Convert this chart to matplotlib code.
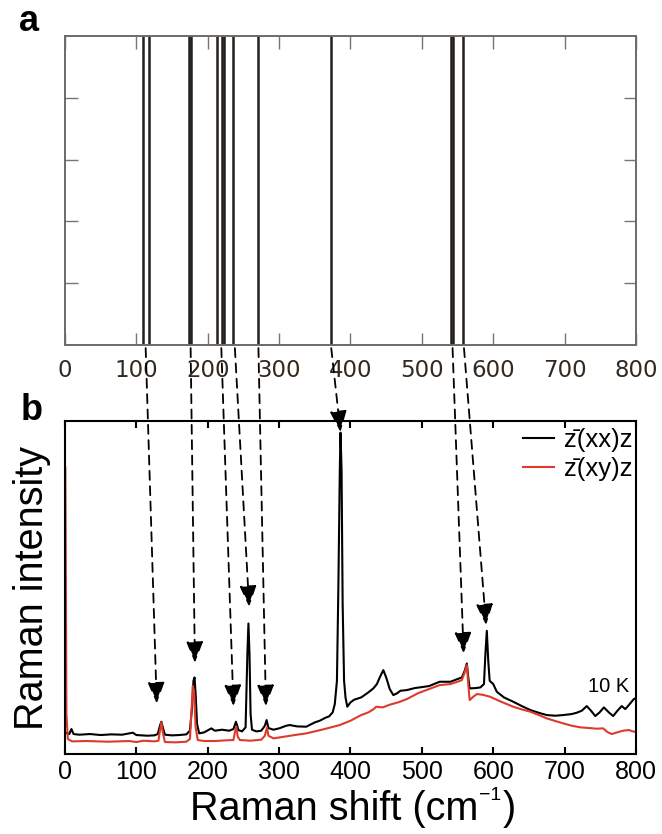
import matplotlib
matplotlib.use("Agg")
import matplotlib.pyplot as plt
from matplotlib.patches import ConnectionPatch

plt.rcParams["font.family"] = ["Liberation Sans", "DejaVu Sans"]

# panel a: calculated phonon positions (cm^-1)
calc_modes = [109, 118, 174, 177, 213, 220, 223, 236, 270, 373, 541, 544, 558]

xx_shift = [2, 6, 9, 12, 20, 35, 50, 65, 80, 95, 100, 115, 125, 130, 133, 135,
            137, 140, 150, 160, 170, 175, 178, 180, 181.5, 183, 185, 188, 195,
            205, 210, 220, 230, 236, 239.5, 243, 248, 253, 255.5, 257, 258.5,
            260, 262, 268, 275, 280, 282.5, 285, 292, 300, 310, 315, 325, 338,
            350, 357, 365, 370, 375, 378, 381, 383, 385, 386, 387.5, 389, 391,
            393, 395.5, 400, 405, 415, 425, 432, 437, 441, 446, 450, 455, 460,
            465, 470, 479, 490, 497, 510, 525, 540, 550, 556, 560, 563, 565,
            567, 575, 582, 587, 589, 591, 593, 595, 600, 605, 615, 628, 640,
            652, 665, 675, 687, 698, 710, 717, 724, 731, 737, 743, 749, 755,
            762, 768, 774, 780, 785, 788, 793, 797, 800]
xx_int = [6.3, 6.0, 7.5, 6.0, 5.8, 6.0, 5.7, 5.9, 5.8, 6.4, 5.7, 5.5, 5.6, 6.0,
          8.5, 9.7, 8.0, 5.8, 5.6, 5.7, 5.9, 7.0, 14, 22, 23, 18, 9, 6.2, 6.5,
          7.7, 7.0, 7.3, 7.0, 7.5, 9.7, 7.2, 6.8, 8, 30, 39.2, 30, 12, 7.3,
          6.8, 7.0, 8.5, 10.2, 7.8, 7.3, 7.7, 8.5, 8.7, 8.3, 8.2, 9.5, 10.0,
          10.9, 11.3, 12.5, 15, 22, 50, 85, 96.5, 85, 45, 22, 17, 14.2, 15.5,
          16.3, 17, 18.5, 19.7, 21, 23, 25.2, 23, 19.5, 17.7, 18.2, 19.0, 19.2,
          19.8, 20, 20.4, 21.7, 21.7, 22.5, 23, 25, 27.2, 23, 19.7, 19.8, 20,
          21, 30, 37, 28, 22, 21, 18.7, 17, 15.7, 14.4, 13.2, 12.3, 11.7, 11.5,
          11.7, 12.0, 12.4, 13.0, 14.4, 13, 11.4, 12.5, 14, 12.5, 11.4, 13,
          14.4, 13.5, 14.2, 15.5, 16.5, 16.8]

xy_shift = [0.5, 2, 4, 10, 30, 60, 90, 100, 110, 125, 131, 133, 135, 137, 140,
            155, 170, 175, 177, 179, 181, 183, 186, 195, 210, 225, 236, 238,
            240, 242, 245, 260, 275, 280, 283, 285, 292, 310, 325, 338, 360,
            385, 400, 415, 425, 432, 436, 445, 455, 468, 479, 495, 510, 525,
            540, 550, 556, 560, 563, 565, 567, 572, 577, 585, 595.6, 610, 628,
            640, 652, 665, 675, 687, 698, 710, 722, 735, 745, 754, 760, 766,
            772, 782, 790, 797, 800]
xy_int = [86, 12, 4.5, 3.8, 3.9, 3.7, 3.9, 3.6, 4.0, 3.8, 4.0, 7, 9.5, 6.5,
          3.6, 3.5, 3.7, 4.5, 12, 20.4, 18, 8, 4.2, 3.9, 3.9, 4.1, 4.2, 6.5,
          8.2, 5.2, 4.2, 4.0, 4.3, 5.5, 8.0, 5.5, 4.7, 5.3, 5.8, 6.2, 7.3, 8.7,
          10.0, 11.7, 12.5, 13.4, 14.2, 14.0, 14.8, 15.6, 16.5, 18.3, 19.5,
          20.7, 21.0, 21.7, 22.2, 24.5, 26.7, 21, 16.2, 17.2, 18.0, 17.8, 17.2,
          15.8, 14.2, 13.4, 12.7, 11.6, 10.7, 9.9, 9.2, 8.5, 8.0, 7.8, 7.6,
          7.7, 6.6, 6.0, 6.4, 7.0, 7.2, 6.7, 6.8]

# arrows: calculated mode (top) -> observed peak (bottom)
arrow_from = [113, 176, 219, 238, 271, 373, 543, 559]
arrow_to_x = [128.5, 182, 236, 258, 281.5, 386, 558.5, 590]
arrow_to_y = [15.2, 27.4, 14.4, 44.2, 14.4, 96.7, 30.2, 38.7]

ticks = [0, 100, 200, 300, 400, 500, 600, 700, 800]

fig = plt.figure(figsize=(6.62, 8.34), dpi=100)

# ---- panel a
ax1 = fig.add_axes([0.0982, 0.5863, 0.8625, 0.3705])
for m in calc_modes:
    ax1.axvline(m, color="#231f1c", lw=1.8)
ax1.set_xlim(0, 800)
ax1.set_ylim(0, 5)
ax1.set_xticks(ticks)
ax1.set_xticklabels([str(t) for t in ticks], family="DejaVu Sans",
                    fontsize=16.5, color="#33291f")
ax1.set_yticks([1, 2, 3, 4])
ax1.set_yticklabels([])
ax1.tick_params(axis="x", direction="in", top=True, length=9, width=1.0,
                color="#7a7570", pad=10)
ax1.tick_params(axis="y", direction="in", right=True, length=9, width=1.0,
                color="#7a7570")
for s in ax1.spines.values():
    s.set_color("#6e6a66")
    s.set_linewidth(1.4)

# ---- panel b
ax2 = fig.add_axes([0.0982, 0.0959, 0.8625, 0.3993])
ax2.plot(xx_shift, xx_int, color="black", lw=1.5, label="z\u0304(xx)z")
ax2.plot(xy_shift, xy_int, color="#dd3a2c", lw=1.5, label="z\u0304(xy)z")
ax2.set_xlim(0, 800)
ax2.set_ylim(0, 100)
ax2.set_xticks(ticks)
ax2.set_xticklabels([str(t) for t in ticks], fontsize=18)
ax2.set_yticks([])
ax2.tick_params(axis="x", direction="in", top=True, length=5, width=1.5, pad=4)
for s in ax2.spines.values():
    s.set_linewidth(1.5)
ax2.set_ylabel("Raman intensity", fontsize=28.5, labelpad=10)
ax2.legend(loc="upper right", frameon=False, fontsize=18.5, handlelength=1.2,
           handletextpad=0.4, labelspacing=0.2, borderaxespad=0.0,
           bbox_to_anchor=(1.012, 1.01))
ax2.text(790, 17.5, "10 K", fontsize=14.5, ha="right", va="bottom")

# x label with a small superscript, built from pieces
renderer = fig.canvas.get_renderer()
lab = fig.text(0.287, 0.017, "Raman shift (cm", fontsize=28.5, va="baseline")
bb = lab.get_window_extent(renderer)
sup = fig.text((bb.x1 + 1) / fig.bbox.width, (bb.y0 + 28) / fig.bbox.height,
               "\u22121", fontsize=14)
sb = sup.get_window_extent(renderer)
fig.text((sb.x1 + 1) / fig.bbox.width, 0.017, ")", fontsize=28.5, va="baseline")

for x0, x1, y1 in zip(arrow_from, arrow_to_x, arrow_to_y):
    con = ConnectionPatch(xyA=(x0, -0.01), coordsA=ax1.get_xaxis_transform(),
                          xyB=(x1, y1), coordsB=ax2.transData,
                          arrowstyle="-|>,head_length=0.65,head_width=0.26",
                          mutation_scale=20, linestyle=(0, (5, 3.5)),
                          lw=1.3, color="black", facecolor="black",
                          shrinkA=0, shrinkB=0)
    fig.add_artist(con)

fig.text(0.028, 0.995, "a", fontsize=26, fontweight="bold", va="top")
fig.text(0.031, 0.529, "b", fontsize=26, fontweight="bold", va="top")

fig.savefig("out.png", dpi=100)
